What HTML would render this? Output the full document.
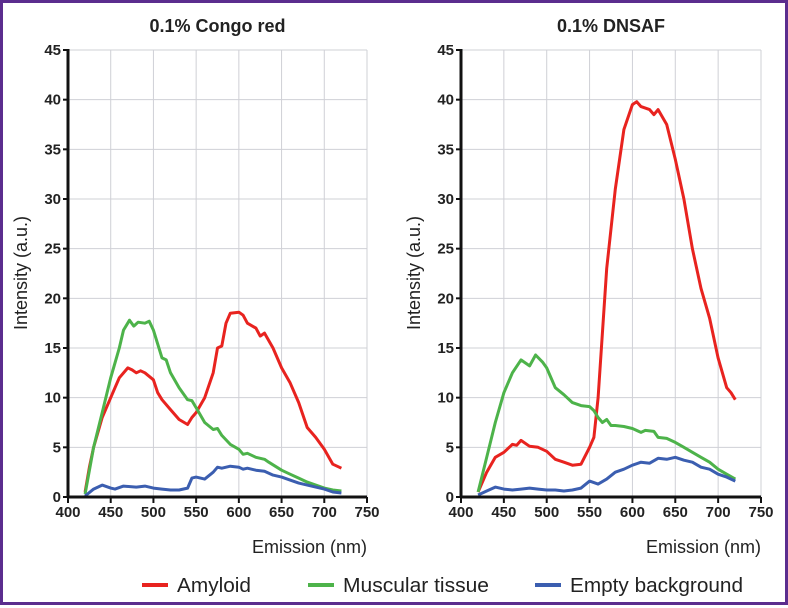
<!DOCTYPE html>
<html><head><meta charset="utf-8"><style>
html,body{margin:0;padding:0;background:#fff}
#wrap{position:relative;width:788px;height:605px;box-sizing:border-box;border:3px solid #5b2d8e;background:#fff}
svg{position:absolute;left:0;top:0}
text{font-family:"Liberation Sans",sans-serif;fill:#222}
</style></head><body>
<div id="wrap">
<svg id="svg" width="788" height="605" viewBox="0 0 788 605"></svg>
</div>
<script>
const xTicks=[400,450,500,550,600,650,700,750];
const yTicks=[0,5,10,15,20,25,30,35,40,45];
const seriesNames=["Amyloid","Muscular tissue","Empty background"];
const seriesColors=["#e8231f","#4db34a","#3b5eb0"];
// Congo red
const crAmyX=[420,425,430,440,450,455,460,470,475,480,485,490,500,505,510,520,530,540,545,550,560,570,575,580,585,590,600,605,610,620,625,630,640,650,660,670,680,690,700,710,720];
const crAmyY=[0.5,3,5,8,10,11,12,13,12.8,12.5,12.7,12.5,11.8,10.5,9.8,8.8,7.8,7.3,8,8.5,10,12.5,15,15.2,17.5,18.5,18.6,18.3,17.5,17,16.2,16.5,15,13,11.5,9.5,7,6,4.8,3.3,2.9];
const crMusX=[420,430,440,450,460,465,472,477,482,490,495,500,510,515,520,530,540,545,550,560,570,575,580,590,600,605,610,620,630,635,650,660,670,680,690,700,710,720];
const crMusY=[0.3,5,8.5,12,15,16.8,17.8,17.2,17.6,17.5,17.7,16.8,14,13.8,12.5,11,9.8,9.7,9,7.5,6.8,6.9,6.2,5.3,4.8,4.3,4.4,4,3.8,3.5,2.7,2.3,1.9,1.5,1.2,0.9,0.7,0.6];
const crEmpX=[420,430,440,450,455,465,480,490,500,510,520,530,540,545,550,560,570,575,580,590,600,605,610,620,630,640,650,660,670,680,690,700,710,720];
const crEmpY=[0.1,0.8,1.2,0.9,0.8,1.1,1.0,1.1,0.9,0.8,0.7,0.7,0.9,1.9,2,1.8,2.5,3,2.9,3.1,3,2.8,2.9,2.7,2.6,2.2,2,1.7,1.4,1.2,1.0,0.8,0.5,0.4];
// DNSAF
const dnAmyX=[420,430,440,450,460,465,470,480,490,500,510,520,530,540,550,555,560,570,580,590,600,605,610,620,625,630,640,650,660,670,680,690,700,710,715,720];
const dnAmyY=[0.5,2.5,4,4.5,5.3,5.2,5.7,5.1,5,4.6,3.8,3.5,3.2,3.3,5,6,10,23,31,37,39.5,39.8,39.3,39,38.5,39,37.5,34,30,25,21,18,14,11,10.5,9.8];
const dnMusX=[420,430,440,450,460,470,480,487,495,500,510,520,530,540,550,555,560,565,570,575,580,590,600,610,615,625,630,640,650,660,670,680,690,700,710,720];
const dnMusY=[0.5,4,7.5,10.5,12.5,13.8,13.2,14.3,13.6,13,11,10.3,9.5,9.2,9.1,8.7,8,7.5,7.8,7.2,7.2,7.1,6.9,6.5,6.7,6.6,6,5.9,5.5,5,4.5,4,3.5,2.8,2.3,1.8];
const dnEmpX=[420,430,440,450,460,470,480,490,500,510,520,530,540,550,560,570,580,590,600,610,620,630,640,650,660,670,680,690,700,710,720];
const dnEmpY=[0.2,0.6,1,0.8,0.7,0.8,0.9,0.8,0.7,0.7,0.6,0.7,0.9,1.6,1.3,1.8,2.5,2.8,3.2,3.5,3.4,3.9,3.8,4,3.7,3.5,3.0,2.8,2.3,2,1.6];

const NS="http://www.w3.org/2000/svg";
const svg=document.getElementById('svg');
function mk(tag,attrs,parent){const e=document.createElementNS(NS,tag);for(const k in attrs)e.setAttribute(k,attrs[k]);(parent||svg).appendChild(e);return e;}

function panel(id,title,x0,x1,sx,sy){
  const top=47,bot=494;
  const g=mk('g',{});
  
  
  const X=v=>x0+(v-400)/350*(x1-x0);
  const Y=v=>bot-(v/45)*(bot-top);
  xTicks.forEach(t=>{if(t>400){const l=mk('line',{x1:X(t),x2:X(t),y1:top,y2:bot,stroke:'#cfd0d6','stroke-width':1},g);}});
  yTicks.forEach(t=>{if(t>0){const l=mk('line',{x1:x0,x2:x1,y1:Y(t),y2:Y(t),stroke:'#cfd0d6','stroke-width':1},g);}});
  sy.forEach((ys,i)=>{
    const xs=sx[i];
    const p=mk('polyline',{points:xs.map((x,j)=>X(x).toFixed(1)+','+Y(ys[j]).toFixed(1)).join(' '),fill:'none',stroke:seriesColors[i],'stroke-width':3,'stroke-linejoin':'round'},g);
    
    
  });
  const ya=mk('line',{x1:x0,x2:x0,y1:top-1,y2:bot+1,stroke:'#111','stroke-width':3},g);
  
  const xa=mk('line',{x1:x0-1,x2:x1,y1:bot,y2:bot,stroke:'#111','stroke-width':3},g);
  
  yTicks.forEach(t=>{
    mk('line',{x1:x0-5,x2:x0,y1:Y(t),y2:Y(t),stroke:'#111','stroke-width':2},g);
    const tx=mk('text',{x:x0-7,y:Y(t)+5,'text-anchor':'end','font-size':15,'font-weight':'bold'},g);
    tx.textContent=t;
  });
  xTicks.forEach(t=>{
    mk('line',{x1:X(t),x2:X(t),y1:bot,y2:bot+6,stroke:'#111','stroke-width':2},g);
    const tx=mk('text',{x:X(t),y:bot+20,'text-anchor':'middle','font-size':15,'font-weight':'bold'},g);
    tx.textContent=t;
  });
  const ti=mk('text',{x:(x0+x1)/2,y:29,'text-anchor':'middle','font-size':18,'font-weight':'bold'},g);
  ti.textContent=title;
  const xt=mk('text',{x:x1,y:550,'text-anchor':'end','font-size':18},g);
  xt.textContent='Emission (nm)';
  const yt=mk('text',{x:0,y:0,'text-anchor':'middle','font-size':18,transform:`translate(${x0-41},270) rotate(-90)`},g);
  yt.textContent='Intensity (a.u.)';
}
panel('congo-red-panel','0.1% Congo red',65,364,[crAmyX,crMusX,crEmpX],[crAmyY,crMusY,crEmpY]);
panel('dnsaf-panel','0.1% DNSAF',458,758,[dnAmyX,dnMusX,dnEmpX],[dnAmyY,dnMusY,dnEmpY]);

const legX=[139,305,532];
const legW=[74,146,173];
const lg=mk('g',{});

seriesNames.forEach((n,i)=>{
  const e=mk('g',{},lg);
  
  mk('line',{x1:legX[i],x2:legX[i]+26,y1:582,y2:582,stroke:seriesColors[i],'stroke-width':4},e);
  const t=mk('text',{x:legX[i]+35,y:589,'font-size':20,textLength:legW[i],lengthAdjust:'spacingAndGlyphs'},e);t.textContent=n;
});
</script>
</body></html>
